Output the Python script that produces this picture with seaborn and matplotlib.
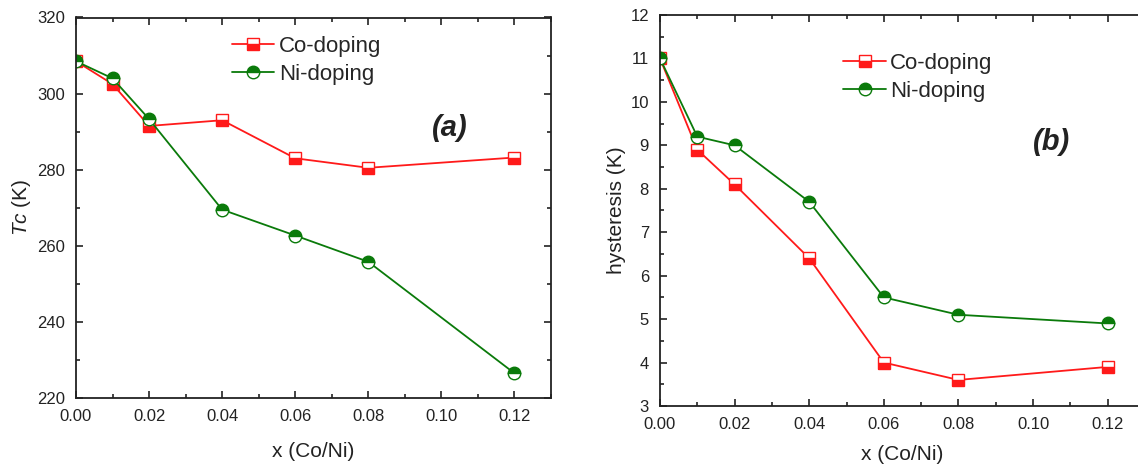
import matplotlib
matplotlib.use("Agg")
import matplotlib.pyplot as plt
from matplotlib.ticker import MultipleLocator
import seaborn as sns
import pandas as pd

sns.set_style("ticks")
plt.rcParams["font.family"] = ["Liberation Sans", "DejaVu Sans"]
plt.rcParams["mathtext.fontset"] = "custom"
plt.rcParams["mathtext.it"] = "Liberation Sans:italic"
plt.rcParams["mathtext.rm"] = "Liberation Sans"

x_dop = [0.00, 0.01, 0.02, 0.04, 0.06, 0.08, 0.12]
tc_co = [308.5, 302.5, 291.5, 293.0, 283.0, 280.5, 283.2]
tc_ni = [308.5, 304.0, 293.3, 269.5, 262.7, 255.8, 226.5]
hys_co = [11.0, 8.9, 8.1, 6.4, 4.0, 3.6, 3.9]
hys_ni = [11.0, 9.2, 9.0, 7.7, 5.5, 5.1, 4.9]

RED = "#ff1a1a"
GREEN = "#0a7a0a"
INK = "#222222"

fig = plt.figure(figsize=(11.38, 4.66), dpi=100)
W, H = 1138, 466
ax1 = fig.add_axes([76 / W, 1 - 398 / H, (551 - 76) / W, (398 - 17.5) / H])
ax2 = fig.add_axes([660 / W, 1 - 406 / H, (1145 - 660) / W, (406 - 15) / H])


def draw(ax, co, ni):
    df = pd.DataFrame({"x": x_dop, "co": co, "ni": ni})
    sns.lineplot(data=df, x="x", y="co", ax=ax, color=RED, lw=1.3,
                 marker="s", markersize=8, fillstyle="bottom",
                 markerfacecolor=RED, markerfacecoloralt="white",
                 markeredgecolor=RED, markeredgewidth=1.0,
                 label="Co-doping")
    sns.lineplot(data=df, x="x", y="ni", ax=ax, color=GREEN, lw=1.3,
                 marker="o", markersize=9, fillstyle="top",
                 markerfacecolor=GREEN, markerfacecoloralt="white",
                 markeredgecolor=GREEN, markeredgewidth=1.0,
                 label="Ni-doping")
    ax.set_xlim(0, 0.13)
    ax.xaxis.set_major_locator(MultipleLocator(0.02))
    ax.xaxis.set_minor_locator(MultipleLocator(0.01))
    ax.xaxis.set_major_formatter(plt.FuncFormatter(lambda v, p: f"{v:.2f}"))
    ax.tick_params(which="both", direction="in", top=True, right=True,
                   labelsize=12, width=1.2, colors=INK)
    ax.tick_params(which="major", length=5, pad=8)
    ax.tick_params(which="minor", length=3)
    for s in ax.spines.values():
        s.set_linewidth(1.3)
        s.set_color(INK)


draw(ax1, tc_co, tc_ni)
ax1.set_ylim(220, 320)
ax1.yaxis.set_major_locator(MultipleLocator(20))
ax1.yaxis.set_minor_locator(MultipleLocator(10))
ax1.set_xlabel("x (Co/Ni)", fontsize=15, labelpad=13, color=INK)
ax1.set_ylabel("$\\it{Tc}$ (K)", fontsize=15, labelpad=3, color=INK)
ax1.legend(loc="upper left", bbox_to_anchor=(0.31, 0.975), frameon=False,
           fontsize=16, handlelength=1.9, handletextpad=0.2, labelspacing=0.3,
           borderaxespad=0)
ax1.text(0.787, 0.71, "(a)", transform=ax1.transAxes, fontsize=21,
         fontweight="bold", fontstyle="italic", ha="center", va="center",
         color=INK)

draw(ax2, hys_co, hys_ni)
ax2.set_ylim(3, 12)
ax2.yaxis.set_major_locator(MultipleLocator(1))
ax2.yaxis.set_minor_locator(MultipleLocator(0.5))
ax2.set_xlabel("x (Co/Ni)", fontsize=15, labelpad=9, color=INK)
ax2.set_ylabel("hysteresis (K)", fontsize=15, labelpad=3, color=INK)
ax2.legend(loc="upper left", bbox_to_anchor=(0.36, 0.925), frameon=False,
           fontsize=16, handlelength=1.9, handletextpad=0.2, labelspacing=0.3,
           borderaxespad=0)
ax2.text(0.808, 0.675, "(b)", transform=ax2.transAxes, fontsize=21,
         fontweight="bold", fontstyle="italic", ha="center", va="center",
         color=INK)

fig.savefig("out.png", dpi=100)
